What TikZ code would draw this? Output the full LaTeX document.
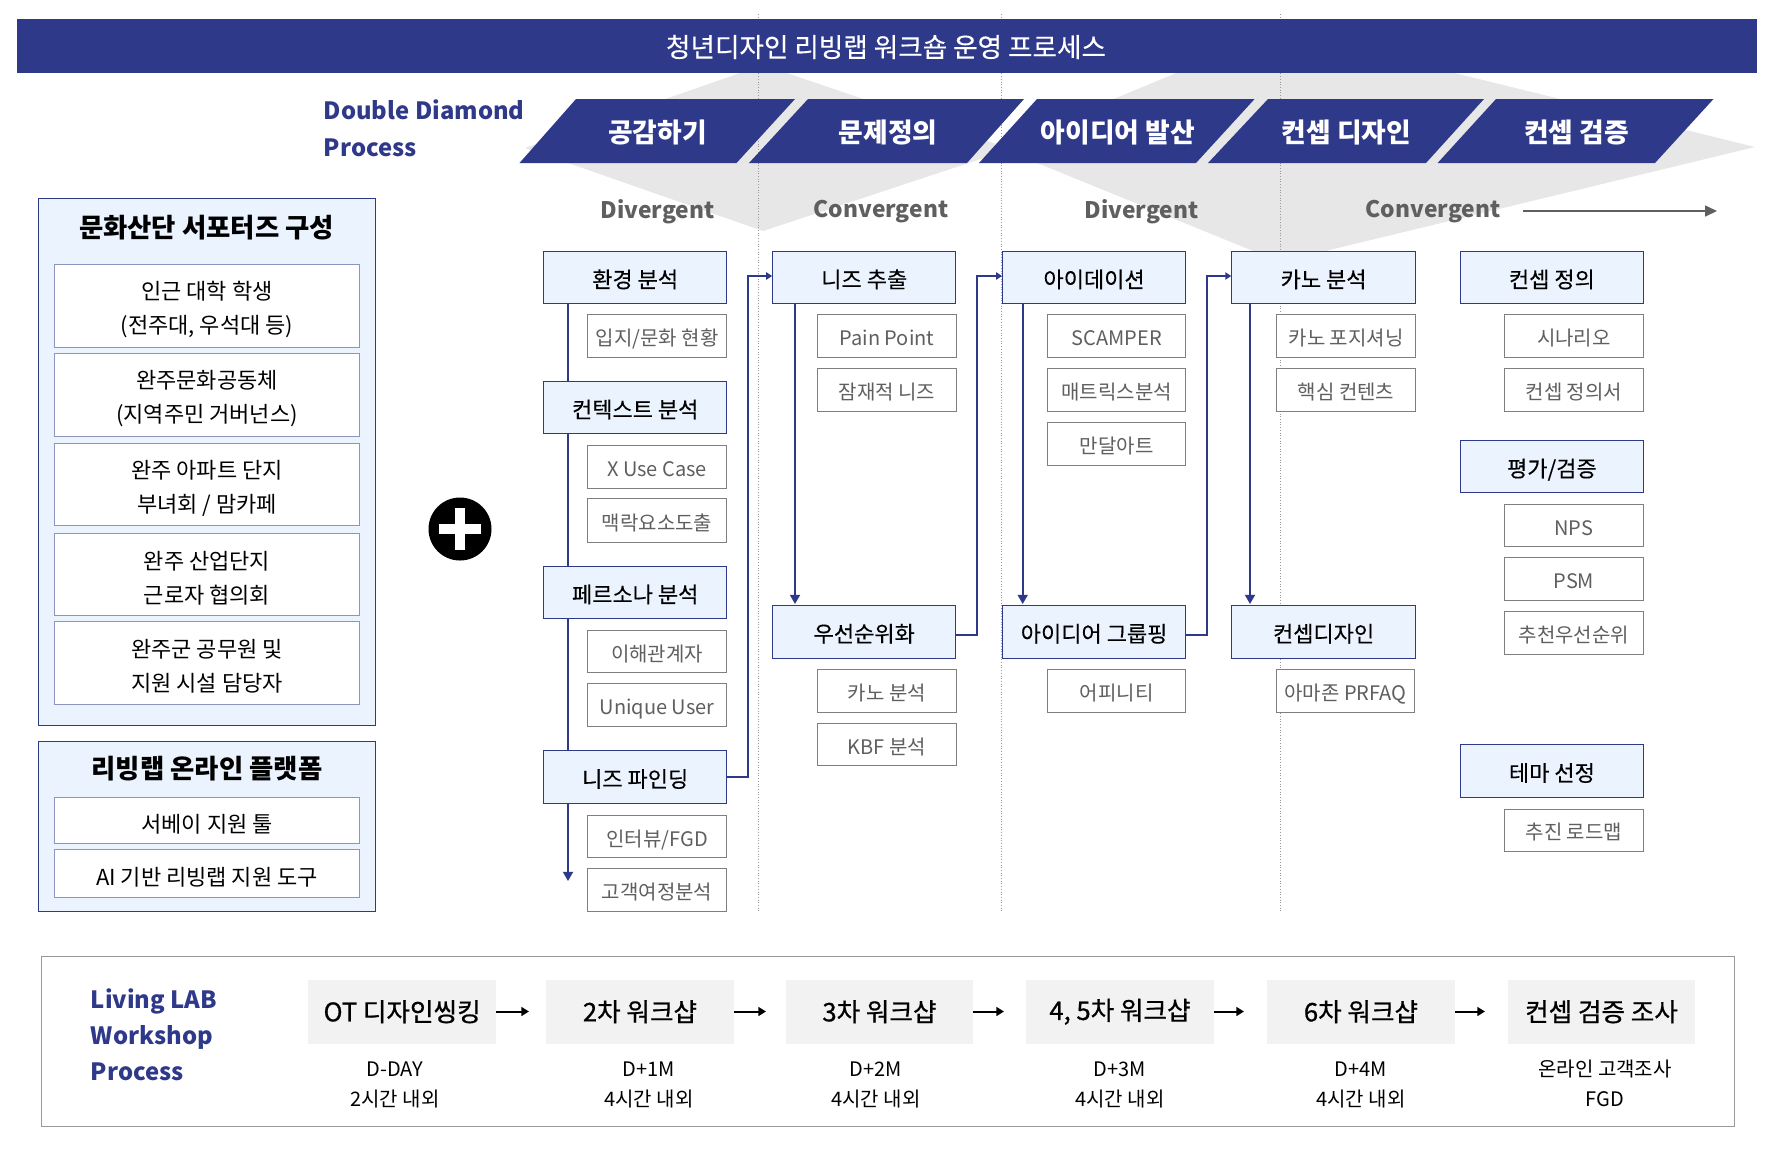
\documentclass[tikz,border=0pt]{standalone}
\usepackage{fontspec}
\setmainfont{Noto Sans CJK KR}
\newfontfamily\medfont{Noto Sans CJK KR}[FakeBold=0.25]
\newfontfamily\wsfont{Noto Sans CJK KR}[FakeBold=0.8]
\usetikzlibrary{arrows.meta}
\definecolor{navy}{HTML}{2E398A}
\definecolor{paleblue}{HTML}{EBF4FE}
\definecolor{dgrey}{HTML}{E7E7E7}
\definecolor{txtgrey}{HTML}{5F5F5F}
\definecolor{rimgrey}{HTML}{7F7F7F}
\definecolor{softblue}{HTML}{8C95BE}
\newcommand{\bx}[7]{\node[#2, minimum width={(#5-#3)*0.5pt}, minimum height={(#6-#4)*0.5pt}] (#1) at ({(#3+#5)/2},{(#4+#6)/2}) {#7};}
\newcommand{\mb}[6]{\bx{#1}{memberframe}{#2}{#3}{#4}{#5}{}\node[membertext] (#1t) at ([yshift=-2pt]#1.center) {#6};}
\tikzset{
  panel/.style={draw=navy,line width=0.5pt,fill=paleblue,inner sep=0pt},
  memberframe/.style={draw=softblue,line width=0.5pt,fill=white,inner sep=0pt},
  membertext/.style={inner sep=0pt,align=center,font=\fontsize{11}{17}\selectfont},
  mainbox/.style={draw=navy,line width=0.5pt,fill=paleblue,inner sep=0pt,text height=10.2pt,text depth=0pt,font=\medfont\fontsize{11}{13}\selectfont},
  subbox/.style={draw=rimgrey,line width=0.5pt,fill=white,inner sep=0pt,text=txtgrey,text height=9.84pt,text depth=0pt,font=\fontsize{10}{12}\selectfont},
  stage/.style={fill=navy,draw=none},
  stagetext/.style={text=white,font=\bfseries\fontsize{13.4}{16}\selectfont},
  phase/.style={text=txtgrey,font=\bfseries\fontsize{11.4}{14}\selectfont},
  heading/.style={text=navy,anchor=west,inner sep=0pt,font=\bfseries\fontsize{11.9}{16}\selectfont},
  paneltitle/.style={font=\bfseries\fontsize{13.2}{16}\selectfont},
  wsbox/.style={fill=black!5,inner sep=0pt,font=\wsfont\fontsize{12.8}{15}\selectfont},
  wscap/.style={align=center,font=\fontsize{10}{15}\selectfont},
  conn/.style={draw=navy,line width=1pt},
  connhead/.style={conn,-{Triangle[length=4.6pt,width=5pt]}},
  connsmall/.style={conn,-{Triangle[length=3pt,width=3.6pt]}},
  wsarrow/.style={draw=black,line width=1pt,-{Triangle[length=3.8pt,width=4.4pt]}},
  guide/.style={draw=black!40,line width=0.35pt,densely dotted},
}
\begin{document}
\begin{tikzpicture}[x=0.5pt,y=-0.5pt]
\useasboundingbox (0,0) rectangle (1774,1148);
% diamonds
\fill[dgrey] (525,148) -- (763,65) -- (1011,149) -- (763,231) -- cycle;
\fill[dgrey] (998,147) -- (1280,30) -- (1755,147) -- (1280,262) -- cycle;
% guides
\foreach \gx/\gn in {758/a,1001/b,1280/c}{
  \coordinate (gt\gn) at (\gx,14);
  \coordinate (gb\gn) at (\gx,912);
  \draw[guide] (gt\gn) -- (gb\gn);
}
% banner
\bx{banner}{fill=navy,inner sep=0pt}{17}{19}{1757}{73}{}
\node[text=white,font=\medfont\fontsize{13.3}{16}\selectfont] (bannertext) at (886,47) {청년디자인 리빙랩 워크숍 운영 프로세스};
% headings
\node[heading] (dd1) at (323.5,110) {Double Diamond};
\node[heading] (dd2) at (323.5,147.5) {Process};
% stages
\fill[stage] (519.5,163) -- (576,99) -- (795,99) -- (736.5,163) -- cycle;
\fill[stage] (749,163) -- (808,99) -- (1024,99) -- (967,163) -- cycle;
\fill[stage] (979,163) -- (1037,99) -- (1254.6,99) -- (1196,163) -- cycle;
\fill[stage] (1208,163) -- (1268,99) -- (1484,99) -- (1426,163) -- cycle;
\fill[stage] (1437.6,163) -- (1496,99) -- (1713.5,99) -- (1655,163) -- cycle;
\node[stagetext] (s1) at (657.5,132) {공감하기};
\node[stagetext] (s2) at (888,132) {문제정의};
\node[stagetext] (s3) at (1118,132) {아이디어 발산};
\node[stagetext] (s4) at (1346.5,132) {컨셉 디자인};
\node[stagetext] (s5) at (1576.5,132) {컨셉 검증};
% phases
\node[phase] (p1) at (657.5,212) {Divergent};
\node[phase] (p2) at (881,212) {Convergent};
\node[phase] (p3) at (1141.5,212) {Divergent};
\node[phase] (p4) at (1433,212) {Convergent};
\coordinate (pstart) at (1523,211);
\coordinate (pend) at (1717,211);
\draw[draw=txtgrey,line width=0.8pt,-{Triangle[length=6pt,width=5.5pt]}] (pstart) -- (pend);
% left panels
\bx{panelA}{panel}{38.5}{198}{375.5}{725}{}
\node[paneltitle] (panelAt) at (206.5,228) {문화산단 서포터즈 구성};
\mb{m1}{54.5}{264}{359.5}{347}{인근 대학 학생\\(전주대, 우석대 등)}
\mb{m2}{54.5}{353.5}{359.5}{436}{완주문화공동체\\(지역주민 거버넌스)}
\mb{m3}{54.5}{443.5}{359.5}{525.5}{완주 아파트 단지\\부녀회 / 맘카페}
\mb{m4}{54.5}{533}{359.5}{615}{완주 산업단지\\근로자 협의회}
\mb{m5}{54.5}{621.5}{359.5}{704}{완주군 공무원 및\\지원 시설 담당자}
\bx{panelB}{panel}{38.5}{741}{375.5}{911}{}
\node[paneltitle] (panelBt) at (207,769) {리빙랩 온라인 플랫폼};
\mb{m6}{54.5}{797}{359.5}{843.5}{서베이 지원 툴}
\mb{m7}{54.5}{849.5}{359.5}{897}{AI 기반 리빙랩 지원 도구}
% plus
\node[circle,fill=black,minimum size=31.5pt,inner sep=0pt] (plus) at (460,529) {};
\fill[white] (plus.center) ++(-21.25,-4.75) rectangle ++(42.5,9.5);
\fill[white] (plus.center) ++(-4.75,-21.25) rectangle ++(9.5,42.5);
% connector coordinates
\coordinate (v1) at (568,0);
\coordinate (v2) at (795,0);
\coordinate (v3) at (1022.7,0);
\coordinate (v4) at (1250,0);
\coordinate (u1) at (748,0);
\coordinate (u2) at (977,0);
\coordinate (u3) at (1207,0);
\coordinate (y1) at (0,276);
\coordinate (y2) at (0,635);
\coordinate (y3) at (0,777);
\coordinate (end1) at (568,881);
\coordinate (ya) at (0,604);
% column 1
\bx{c1a}{mainbox}{543.6}{251.7}{726.8}{303.3}{환경 분석}
\bx{c1a1}{subbox}{587.3}{314.3}{726.8}{357.3}{입지/문화 현황}
\bx{c1b}{mainbox}{543.6}{381.7}{726.8}{433.4}{컨텍스트 분석}
\bx{c1b1}{subbox}{587.3}{445}{726.8}{488}{X Use Case}
\bx{c1b2}{subbox}{587.3}{498.5}{726.8}{542}{맥락요소도출}
\bx{c1c}{mainbox}{543.6}{566.7}{726.8}{618.3}{페르소나 분석}
\bx{c1c1}{subbox}{587.3}{630.3}{726.8}{672.3}{이해관계자}
\bx{c1c2}{subbox}{587.3}{683.3}{726.8}{726.3}{Unique User}
\bx{c1d}{mainbox}{543.6}{750.7}{726.8}{803.3}{니즈 파인딩}
\bx{c1d1}{subbox}{587.3}{815.3}{726.8}{857.3}{인터뷰/FGD}
\bx{c1d2}{subbox}{587.3}{868.3}{726.8}{911.3}{고객여정분석}
% column 2
\bx{c2a}{mainbox}{772.7}{251.7}{955.8}{303.3}{니즈 추출}
\bx{c2a1}{subbox}{817.5}{314.3}{956.5}{357.3}{Pain Point}
\bx{c2a2}{subbox}{817.5}{368.3}{956.5}{411}{잠재적 니즈}
\bx{c2b}{mainbox}{772.7}{605.3}{955.8}{658.3}{우선순위화}
\bx{c2b1}{subbox}{817.5}{669.3}{956.5}{712.3}{카노 분석}
\bx{c2b2}{subbox}{817.5}{723.3}{956.5}{765.3}{KBF 분석}
% column 3
\bx{c3a}{mainbox}{1002.6}{251.7}{1185.6}{303.3}{아이데이션}
\bx{c3a1}{subbox}{1047.6}{314.3}{1185.6}{357.3}{SCAMPER}
\bx{c3a2}{subbox}{1047.6}{368.3}{1185.6}{411}{매트릭스분석}
\bx{c3a3}{subbox}{1047.6}{422.6}{1185.6}{465}{만달아트}
\bx{c3b}{mainbox}{1002.6}{605.3}{1185.6}{658.3}{아이디어 그룹핑}
\bx{c3b1}{subbox}{1047.6}{669.3}{1185.6}{712.3}{어피니티}
% column 4
\bx{c4a}{mainbox}{1231.8}{251.7}{1415.4}{303.3}{카노 분석}
\bx{c4a1}{subbox}{1276.8}{314.3}{1415.4}{357.3}{카노 포지셔닝}
\bx{c4a2}{subbox}{1276.8}{368.3}{1415.4}{411}{핵심 컨텐츠}
\bx{c4b}{mainbox}{1231.8}{605.3}{1415.4}{658.3}{컨셉디자인}
\bx{c4b1}{subbox}{1276.8}{669.3}{1414}{712.3}{아마존 PRFAQ}
% column 5
\bx{c5a}{mainbox}{1460.4}{251.7}{1643.4}{303.3}{컨셉 정의}
\bx{c5a1}{subbox}{1504.3}{314.3}{1643.4}{357.3}{시나리오}
\bx{c5a2}{subbox}{1504.3}{368.3}{1643.4}{411}{컨셉 정의서}
\bx{c5b}{mainbox}{1460.4}{440.5}{1643.4}{492.7}{평가/검증}
\bx{c5b1}{subbox}{1504.3}{504}{1643.4}{546.5}{NPS}
\bx{c5b2}{subbox}{1504.3}{557.6}{1643.4}{600}{PSM}
\bx{c5b3}{subbox}{1504.3}{611.5}{1643.4}{654}{추천우선순위}
\bx{c5c}{mainbox}{1460.4}{744.5}{1643.4}{797.5}{테마 선정}
\bx{c5c1}{subbox}{1504.3}{809}{1643.4}{851}{추진 로드맵}
% connectors
\draw[conn] (c1a.south -| v1) -- (c1b.north -| v1);
\draw[conn] (c1b.south -| v1) -- (c1c.north -| v1);
\draw[conn] (c1c.south -| v1) -- (c1d.north -| v1);
\draw[connhead] (c1d.south -| v1) -- (end1);
\draw[connhead] (c2a.south -| v2) -- (ya -| v2);
\draw[connhead] (c3a.south -| v3) -- (ya -| v3);
\draw[connhead] (c4a.south -| v4) -- (ya -| v4);
\draw[connsmall] (c1d.east |- y3) -- (y3 -| u1) -- (y1 -| u1) -- (c2a.west |- y1);
\draw[connsmall] (c2b.east |- y2) -- (y2 -| u2) -- (y1 -| u2) -- (c3a.west |- y1);
\draw[connsmall] (c3b.east |- y2) -- (y2 -| u3) -- (y1 -| u3) -- (c4a.west |- y1);
% workshop section
\bx{frame}{draw=black!40,line width=0.5pt,inner sep=0pt}{41.3}{956}{1734}{1126}{}
\node[heading] (lw1) at (90.5,1001.5) {Living LAB};
\node[heading] (lw2) at (90.5,1037.5) {Workshop};
\node[heading] (lw3) at (90.5,1071.5) {Process};
\bx{w1}{wsbox}{308.3}{980}{496}{1043.5}{OT 디자인씽킹}
\bx{w2}{wsbox}{546}{980}{734}{1043.5}{2차 워크샵}
\bx{w3}{wsbox}{786}{980}{973}{1043.5}{3차 워크샵}
\bx{w4}{wsbox}{1026}{980}{1214}{1043.5}{4, 5차 워크샵}
\bx{w5}{wsbox}{1267}{980}{1455}{1043.5}{6차 워크샵}
\bx{w6}{wsbox}{1508}{980}{1695}{1043.5}{컨셉 검증 조사}
\coordinate (e1) at (529,1011.5);
\coordinate (e2) at (766,1011.5);
\coordinate (e3) at (1004,1011.5);
\coordinate (e4) at (1244,1011.5);
\coordinate (e5) at (1485,1011.5);
\draw[wsarrow] (w1.east |- e1) -- (e1);
\draw[wsarrow] (w2.east |- e2) -- (e2);
\draw[wsarrow] (w3.east |- e3) -- (e3);
\draw[wsarrow] (w4.east |- e4) -- (e4);
\draw[wsarrow] (w5.east |- e5) -- (e5);
\node[wscap] (t1) at (395,1084.5) {\vphantom{온}D-DAY\\2시간 내외};
\node[wscap] (t2) at (649,1084.5) {\vphantom{온}D+1M\\4시간 내외};
\node[wscap] (t3) at (876,1084.5) {\vphantom{온}D+2M\\4시간 내외};
\node[wscap] (t4) at (1120,1084.5) {\vphantom{온}D+3M\\4시간 내외};
\node[wscap] (t5) at (1361,1084.5) {\vphantom{온}D+4M\\4시간 내외};
\node[wscap] (t6) at (1605,1083.5) {온라인 고객조사\\\vphantom{온}FGD};
\end{tikzpicture}
\end{document}
